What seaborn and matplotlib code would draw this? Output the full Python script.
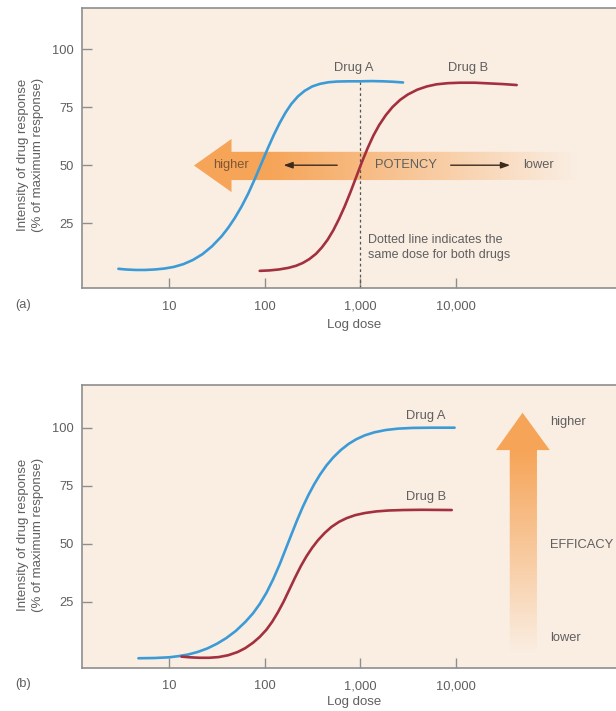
import numpy as np
import pandas as pd
import matplotlib
matplotlib.use('Agg')
import matplotlib.pyplot as plt
from matplotlib.patches import Polygon
import seaborn as sns

# ---- data (log10 of dose, % of max response) ----
# panel (a): potency
a_logdose_A = [0.47, 0.55, 0.65, 0.75, 0.85, 0.95, 1.05, 1.15, 1.25, 1.35, 1.45, 1.55, 1.62,
               1.69, 1.76, 1.83, 1.90, 1.97, 2.04, 2.10, 2.16, 2.22, 2.28, 2.35, 2.42, 2.50,
               2.58, 2.67, 2.76, 2.88, 3.00, 3.12, 3.24, 3.35, 3.45]
a_resp_A = [5.3, 5.0, 4.8, 4.8, 5.0, 5.4, 6.1, 7.3, 9.1, 11.6, 15.0, 19.3, 23.0,
            27.3, 32.2, 37.8, 44.2, 51.0, 57.8, 63.3, 68.3, 72.7, 76.4, 79.7, 82.1, 84.0,
            85.1, 85.8, 86.1, 86.2, 86.2, 86.3, 86.2, 86.0, 85.7]
a_logdose_B = [1.95, 2.05, 2.15, 2.25, 2.33, 2.40, 2.47, 2.54, 2.60, 2.66, 2.72, 2.78, 2.84,
               2.90, 2.96, 3.02, 3.08, 3.14, 3.20, 3.27, 3.34, 3.42, 3.50, 3.60, 3.70, 3.80,
               3.92, 4.05, 4.20, 4.35, 4.50, 4.64]
a_resp_B = [4.4, 4.6, 5.0, 5.7, 6.6, 7.8, 9.5, 11.8, 14.5, 17.8, 21.9, 26.8, 32.3,
            38.4, 44.9, 51.4, 57.4, 62.8, 67.3, 71.6, 75.1, 78.2, 80.5, 82.6, 84.0, 84.9,
            85.4, 85.6, 85.6, 85.3, 85.0, 84.6]

# panel (b): efficacy
b_logdose_A = [0.68, 0.85, 1.00, 1.10, 1.20, 1.30, 1.40, 1.50, 1.60, 1.70, 1.80, 1.88, 1.95,
               2.02, 2.09, 2.16, 2.22, 2.28, 2.34, 2.40, 2.46, 2.52, 2.58, 2.65, 2.72, 2.80,
               2.88, 2.96, 3.05, 3.15, 3.27, 3.40, 3.55, 3.75, 3.99]
b_resp_A = [0.6, 0.7, 1.0, 1.5, 2.2, 3.3, 4.8, 6.8, 9.3, 12.4, 16.3, 20.0, 24.0,
            28.8, 34.6, 41.2, 47.5, 53.8, 60.0, 65.8, 71.0, 75.6, 79.7, 83.8, 87.2, 90.4,
            93.0, 95.0, 96.7, 98.0, 99.0, 99.6, 99.9, 100.0, 100.0]
b_logdose_B = [1.13, 1.22, 1.32, 1.42, 1.52, 1.62, 1.72, 1.80, 1.88, 1.95, 2.02, 2.08, 2.14,
               2.20, 2.26, 2.32, 2.38, 2.44, 2.50, 2.56, 2.63, 2.70, 2.78, 2.86, 2.95, 3.05,
               3.17, 3.30, 3.45, 3.65, 3.96]
b_resp_B = [1.3, 1.0, 0.8, 0.8, 1.1, 1.9, 3.3, 5.0, 7.3, 9.8, 12.9, 16.3, 20.4,
            25.0, 30.2, 35.4, 40.3, 44.6, 48.3, 51.5, 54.6, 57.2, 59.4, 61.0, 62.3, 63.2,
            63.9, 64.3, 64.5, 64.6, 64.5]

same_dose = 1000
tick_doses = [10, 100, 1000, 10000]
tick_labels = ['10', '100', '1,000', '10,000']

BLUE = '#3c9bd6'
RED = '#a3303f'
BG = '#faeee3'
ORANGE = (0.965, 0.645, 0.345)
TXT = '#5f5f5f'
SPINE = '#8e8e8e'

sns.set_theme(style='ticks')
plt.rcParams['font.family'] = ['Liberation Sans', 'DejaVu Sans']

fig = plt.figure(figsize=(6.16, 7.11), dpi=100)
ax_a = fig.add_axes([0.1331, 0.5949, 0.8669, 0.3934])
ax_b = fig.add_axes([0.1331, 0.0605, 0.8669, 0.3980])


def curve_frame(logdose, resp):
    return pd.DataFrame({'dose': 10 ** np.array(logdose), 'resp': resp})


def gradient_arrow(ax, verts, extent, ramp, vertical=False):
    poly = Polygon(verts, closed=True, transform=ax.transAxes, fc='none', ec='none')
    ax.add_patch(poly)
    n = 300
    if vertical:
        pos = np.linspace(extent[3], extent[2], n)[:, None] * np.ones((1, 4))
    else:
        pos = np.ones((4, 1)) * np.linspace(extent[0], extent[1], n)[None, :]
    alpha = np.clip((pos - ramp[1]) / (ramp[0] - ramp[1]), 0, 1)
    img = np.zeros(pos.shape + (4,))
    img[..., 0], img[..., 1], img[..., 2] = ORANGE
    img[..., 3] = alpha
    im = ax.imshow(img, extent=extent, transform=ax.transAxes, aspect='auto',
                   interpolation='bilinear', zorder=1)
    im.set_clip_path(poly)


def style_axes(ax, ylim, xlabel_y):
    ax.set_facecolor(BG)
    ax.set_xscale('log')
    ax.set_xlim(10 ** 0.089, 10 ** 5.68)
    ax.set_ylim(*ylim)
    ax.set_xticks(tick_doses)
    ax.set_xticklabels(tick_labels)
    ax.xaxis.set_minor_locator(matplotlib.ticker.NullLocator())
    ax.set_yticks([25, 50, 75, 100])
    ax.tick_params(direction='in', length=7, width=1, color=SPINE, labelcolor=TXT,
                   labelsize=9.3)
    ax.tick_params(axis='x', pad=9)
    ax.tick_params(axis='y', pad=6)
    for side in ['left', 'top', 'bottom']:
        ax.spines[side].set_color(SPINE)
        ax.spines[side].set_linewidth(1.2)
    ax.spines['right'].set_visible(False)
    ax.set_xlabel('Log dose', fontsize=9.5, color=TXT)
    ax.xaxis.set_label_coords(0.509, xlabel_y)
    ax.set_ylabel('')


# ---------------- (a) potency ----------------
gradient_arrow(ax_a,
               [(0.2097, 0.438), (0.280, 0.533), (0.280, 0.487), (0.93, 0.487),
                (0.93, 0.386), (0.280, 0.386), (0.280, 0.343)],
               [0.20, 0.93, 0.34, 0.54], ramp=(0.35, 0.93))

da = curve_frame(a_logdose_A, a_resp_A)
db = curve_frame(a_logdose_B, a_resp_B)
sns.lineplot(data=da, x='dose', y='resp', ax=ax_a, color=BLUE, lw=1.9, zorder=3)
sns.lineplot(data=db, x='dose', y='resp', ax=ax_a, color=RED, lw=1.9, zorder=3)
ax_a.vlines(same_dose, -3, max(a_resp_A), colors='#555555', lw=0.9,
            linestyles=(0, (2.2, 2.2)), zorder=2)

ax_a.text(10 ** 2.93, 91.9, 'Drug A', ha='center', va='center', fontsize=9.3, color=TXT)
ax_a.text(10 ** 4.13, 91.9, 'Drug B', ha='center', va='center', fontsize=9.3, color=TXT)
ax_a.text(10 ** 1.65, 50, 'higher', ha='center', va='center', fontsize=9.3, color='#7d5734',
          zorder=4)
ax_a.text(10 ** 3.48, 50, 'POTENCY', ha='center', va='center', fontsize=9.3, color=TXT,
          zorder=4)
ax_a.text(10 ** 4.87, 50, 'lower', ha='center', va='center', fontsize=9.3, color=TXT,
          zorder=4)
arrow_kw = dict(arrowstyle='-|>,head_length=0.45,head_width=0.16', color='#3a2b1f', lw=1.0)
ax_a.annotate('', xy=(10 ** 2.17, 50), xytext=(10 ** 2.79, 50), arrowprops=arrow_kw, zorder=4)
ax_a.annotate('', xy=(10 ** 4.60, 50), xytext=(10 ** 3.92, 50), arrowprops=arrow_kw, zorder=4)
ax_a.text(10 ** 3.08, 14.6, 'Dotted line indicates the\nsame dose for both drugs',
          ha='left', va='center', fontsize=9.0, color=TXT, linespacing=1.35)

style_axes(ax_a, (-3.0, 117.7), -0.109)

# ---------------- (b) efficacy ----------------
gradient_arrow(ax_b,
               [(0.825, 0.902), (0.876, 0.770), (0.852, 0.770), (0.852, 0.05),
                (0.801, 0.05), (0.801, 0.770), (0.775, 0.770)],
               [0.77, 0.88, 0.05, 0.91], ramp=(0.77, 0.05), vertical=True)

dA = curve_frame(b_logdose_A, b_resp_A)
dB = curve_frame(b_logdose_B, b_resp_B)
sns.lineplot(data=dA, x='dose', y='resp', ax=ax_b, color=BLUE, lw=1.9, zorder=3)
sns.lineplot(data=dB, x='dose', y='resp', ax=ax_b, color=RED, lw=1.9, zorder=3)

ax_b.text(10 ** 3.69, 105, 'Drug A', ha='center', va='center', fontsize=9.3, color=TXT)
ax_b.text(10 ** 3.69, 70.3, 'Drug B', ha='center', va='center', fontsize=9.3, color=TXT)
ax_b.text(0.876, 0.869, 'higher', transform=ax_b.transAxes, ha='left', va='center',
          fontsize=9.3, color=TXT)
ax_b.text(0.876, 0.435, 'EFFICACY', transform=ax_b.transAxes, ha='left', va='center',
          fontsize=9.3, color=TXT)
ax_b.text(0.876, 0.106, 'lower', transform=ax_b.transAxes, ha='left', va='center',
          fontsize=9.3, color=TXT)

style_axes(ax_b, (-3.6, 118.4), -0.1007)

# shared labels
ylab = 'Intensity of drug response\n(% of maximum response)'
fig.text(0.0495, 0.782, ylab, rotation=90, ha='center', va='center', fontsize=9.5,
         color=TXT, linespacing=1.3, multialignment='center')
fig.text(0.0495, 0.2475, ylab, rotation=90, ha='center', va='center', fontsize=9.5,
         color=TXT, linespacing=1.3, multialignment='center')
fig.text(0.0373, 0.571, '(a)', ha='center', va='center', fontsize=9.3, color=TXT)
fig.text(0.0373, 0.038, '(b)', ha='center', va='center', fontsize=9.3, color=TXT)

fig.savefig('out.png', dpi=100, facecolor='white')
